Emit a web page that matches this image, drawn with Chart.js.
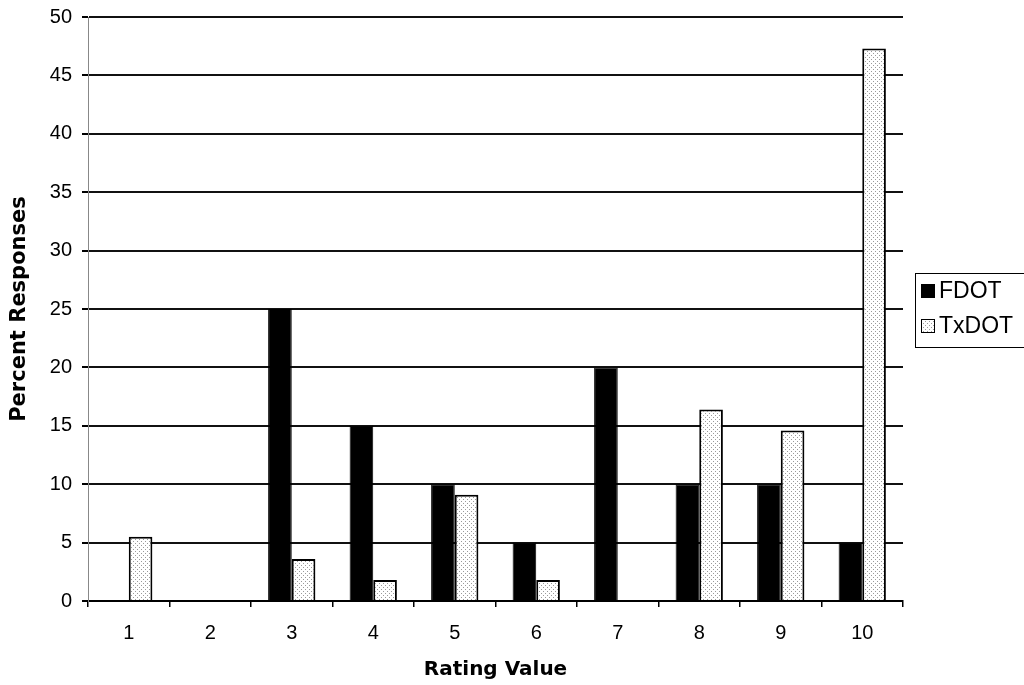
<!DOCTYPE html>
<html><head><meta charset="utf-8">
<script src="https://cdn.jsdelivr.net/npm/chart.js@4.4.0/dist/chart.umd.min.js"></script>
<style>html,body{margin:0;padding:0;background:#fff;overflow:hidden}#wrap{width:1024px;height:685px;position:relative}</style>
</head><body><div id="wrap"><canvas id="c" width="1024" height="685"></canvas></div>
<script>
const categories = ['1','2','3','4','5','6','7','8','9','10'];
const seriesNames = ['FDOT','TxDOT'];
const fdotValues = [0,0,25,15,10,5,20,10,10,5];
const txdotValues = [5.5,0,3.6,1.8,9.1,1.8,0,16.4,14.6,47.3];
const yMin = 0, yMax = 50, yStep = 5;
const xTitle = 'Rating Value';
const yTitle = 'Percent Responses';

const canvas = document.getElementById('c');
const mainCtx = canvas.getContext('2d');
function dotPattern(){
  const p = document.createElement('canvas'); p.width = 4; p.height = 4;
  const g = p.getContext('2d');
  g.fillStyle = '#fff'; g.fillRect(0,0,4,4);
  g.fillStyle = '#9a9a9a'; g.fillRect(1,1,1,1); g.fillRect(3,3,1,1);
  return mainCtx.createPattern(p, 'repeat');
}
const txFill = dotPattern();

const legendPlugin = {
  id: 'boxLegend',
  afterDraw(chart){
    const ctx = chart.ctx;
    ctx.save();
    ctx.strokeStyle = '#000'; ctx.lineWidth = 1;
    ctx.strokeRect(915.5, 273.5, 130, 74);
    chart.data.datasets.forEach((ds, i) => {
      const y = 291 + i * 35;
      ctx.fillStyle = ds.backgroundColor;
      ctx.fillRect(921, y - 7, 14, 14);
      ctx.strokeStyle = '#000'; ctx.lineWidth = 1;
      ctx.strokeRect(921.5, y - 6.5, 13, 13);
      ctx.fillStyle = '#000';
      ctx.font = '23px "Liberation Sans", Arial, sans-serif';
      ctx.textBaseline = 'middle';
      ctx.fillText(ds.label, 939, y + 1);
    });
    ctx.restore();
  }
};

new Chart(canvas, {
  type: 'bar',
  data: {
    labels: categories,
    datasets: [
      { label: seriesNames[0], data: fdotValues, backgroundColor: '#000', borderColor: '#000', borderWidth: 1 },
      { label: seriesNames[1], data: txdotValues, backgroundColor: txFill, borderColor: '#000', borderWidth: 2 }
    ]
  },
  options: {
    responsive: false,
    animation: false,
    devicePixelRatio: 1,
    layout: { padding: { top: 17, right: 121, left: 0, bottom: 0 } },
    plugins: { legend: { display: false }, tooltip: { enabled: false } },
    datasets: { bar: { categoryPercentage: 0.58, barPercentage: 1.0 } },
    scales: {
      x: {
        offset: true,
        grid: { display: true, drawOnChartArea: false, drawTicks: true, tickLength: 6, tickColor: '#000', lineWidth: 1.5, offset: true },
        border: { display: true, color: '#000', width: 2 },
        ticks: { color: '#000', padding: 14, font: { family: '"Liberation Sans", Arial, sans-serif', size: 20 } },
        title: { display: true, text: xTitle, color: '#000', padding: { top: 0, bottom: 3 }, font: { family: '"DejaVu Sans", sans-serif', size: 20, weight: 'bold' } },
        afterFit(scale){ scale.height = 84; scale.paddingLeft = 0; scale.paddingRight = 0; }
      },
      y: {
        min: yMin, max: yMax,
        grid: { display: true, color: '#111', lineWidth: 2, drawTicks: true, tickLength: 6, tickColor: '#000' },
        border: { display: true, color: '#888', width: 1 },
        ticks: { stepSize: yStep, color: '#000', padding: 10, font: { family: '"Liberation Sans", Arial, sans-serif', size: 20 } },
        title: { display: true, text: yTitle, color: '#000', padding: { top: 7, bottom: 0 }, font: { family: '"DejaVu Sans", sans-serif', size: 21, weight: 'bold' } },
        afterFit(scale){ scale.width = 88; scale.paddingTop = 0; scale.paddingBottom = 0; }
      }
    }
  },
  plugins: [legendPlugin]
});
</script></body></html>
